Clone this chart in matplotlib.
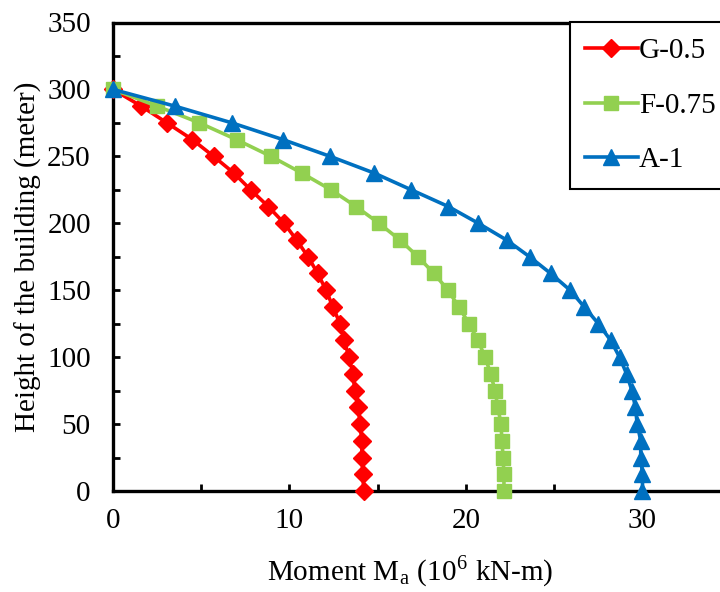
import matplotlib
matplotlib.use("Agg")
import matplotlib.pyplot as plt
from matplotlib.ticker import MultipleLocator

plt.rcParams['font.family'] = ['Liberation Serif', 'DejaVu Serif']
plt.rcParams['mathtext.fontset'] = 'stix'

heights = [300, 287.5, 275, 262.5, 250, 237.5, 225, 212.5, 200, 187.5, 175, 162.5,
           150, 137.5, 125, 112.5, 100, 87.5, 75, 62.5, 50, 37.5, 25, 12.5, 0]
g_05 = [0, 1.6, 3.06, 4.5, 5.7, 6.85, 7.8, 8.8, 9.7, 10.4, 11.05, 11.6,
        12.07, 12.46, 12.86, 13.1, 13.37, 13.6, 13.7, 13.9, 14.0, 14.1, 14.1, 14.16, 14.2]
f_075 = [0, 2.5, 4.9, 7.0, 8.95, 10.7, 12.35, 13.77, 15.07, 16.26, 17.28, 18.19,
         18.98, 19.6, 20.17, 20.68, 21.08, 21.4, 21.64, 21.81, 21.98, 22.04, 22.1, 22.15, 22.15]
a_1 = [0, 3.51, 6.74, 9.63, 12.3, 14.8, 16.9, 19.0, 20.7, 22.3, 23.6, 24.8,
       25.9, 26.7, 27.5, 28.2, 28.7, 29.1, 29.4, 29.6, 29.7, 29.9, 29.9, 30.0, 30.0]

series_names = ['G-0.5', 'F-0.75', 'A-1']
x_ticks = [0, 10, 20, 30]
y_ticks = [0, 50, 100, 150, 200, 250, 300, 350]

W, H = 720, 592
fig = plt.figure(figsize=(W / 100, H / 100), dpi=100)
x0, y0 = 113, 491
px_x = 17.65
px_y = 468.5 / 350
ax = fig.add_axes([x0 / W, (H - y0) / H, 35 * px_x / W, 350 * px_y / H])

ax.plot(g_05, heights, color='#FF0000', lw=2.6, marker='D', ms=9, label=series_names[0], clip_on=False, zorder=3)
ax.plot(f_075, heights, color='#92D050', lw=2.6, marker='s', ms=10, label=series_names[1], clip_on=False, zorder=3)
ax.plot(a_1, heights, color='#0070C0', lw=2.6, marker='^', ms=11, label=series_names[2], clip_on=False, zorder=4)

ax.set_xlim(0, 35)
ax.set_ylim(0, 350)
ax.set_xticks(x_ticks)
ax.set_yticks(y_ticks)
ax.xaxis.set_minor_locator(MultipleLocator(5))
ax.yaxis.set_minor_locator(MultipleLocator(25))
ax.tick_params(which='both', direction='in', length=5, width=2, labelsize=21)
ax.tick_params(axis='y', pad=16)
ax.tick_params(axis='x', pad=12)
for s in ax.spines.values():
    s.set_linewidth(2.4)

ax.set_ylabel('Height of the building (meter)', fontsize=21)
ax.yaxis.set_label_coords((28 - x0) / (35 * px_x), 0.5)
ax.yaxis.label.set_va('center')
fig.text(410 / W, 1 - 572 / H, 'Moment M$_\\mathregular{a}$ (10$^\\mathregular{6}$ kN-m)',
         ha='center', va='center', fontsize=21)

leg = ax.legend(loc='upper left', bbox_to_anchor=(570 / W, 1 - 22.5 / H), bbox_transform=fig.transFigure,
                fontsize=21, frameon=True, fancybox=False, edgecolor='black', framealpha=1,
                borderpad=0.52, labelspacing=0.97, handlelength=1.8, handletextpad=0.05, borderaxespad=0)
leg.get_frame().set_linewidth(1.5)

fig.savefig('out.png', dpi=100)
